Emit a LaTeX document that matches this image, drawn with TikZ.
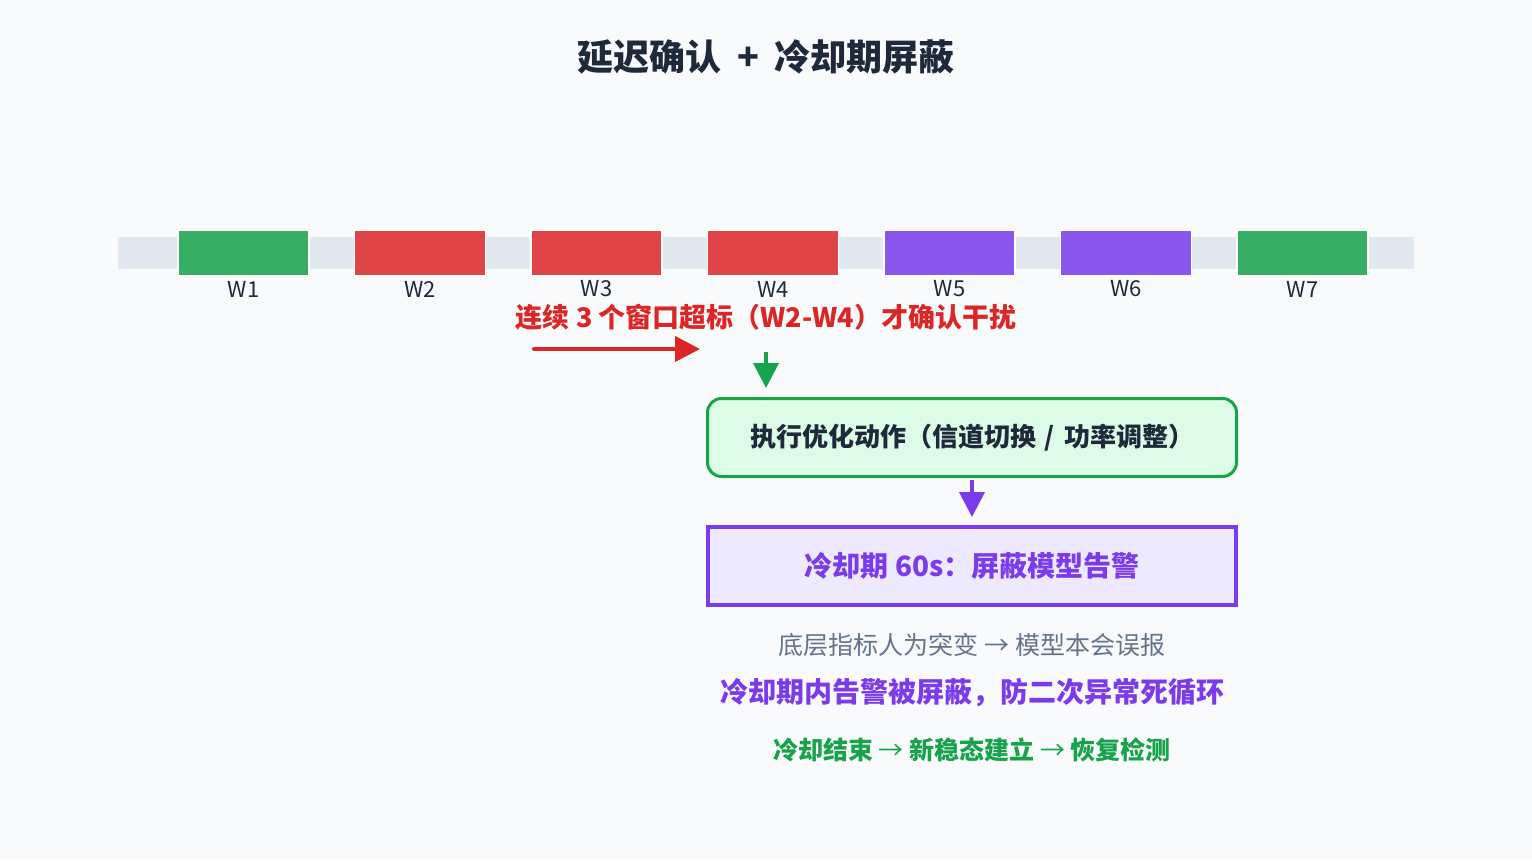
\documentclass[tikz,border=0pt]{standalone}
\usepackage{fontspec}
\setmainfont{Noto Sans CJK SC}
\usepackage{xcolor}
\usetikzlibrary{arrows.meta,positioning}
\definecolor{bg}{HTML}{F8FAFC}
\definecolor{ink}{HTML}{1E293B}
\definecolor{trackc}{HTML}{E2E8F0}
\definecolor{okc}{HTML}{37AE63}
\definecolor{badc}{HTML}{DF4547}
\definecolor{mutec}{HTML}{8B56EE}
\definecolor{alert}{HTML}{DC2626}
\definecolor{grn}{HTML}{16A34A}
\definecolor{grnfill}{HTML}{DCFCE7}
\definecolor{vio}{HTML}{7C3AED}
\definecolor{viofill}{HTML}{EDE9FE}
\definecolor{slate}{HTML}{64748B}
\tikzset{%
	track/.style   = {fill=trackc, minimum width=1296pt, minimum height=32pt, inner sep=0pt, outer sep=0pt}, % timeline
	win/.style     = {draw=white, line width=1.5pt, minimum width=131pt, minimum height=46pt, inner sep=0pt, outer sep=0pt}, % window
	winok/.style   = {win, fill=okc},
	winbad/.style  = {win, fill=badc},
	winmute/.style = {win, fill=mutec},
	wlab/.style    = {text=ink, font=\fontsize{22}{26}\selectfont, inner sep=0pt}, % window label
	ttl/.style     = {text=ink, font=\fontsize{36}{42}\selectfont\bfseries},
	hint/.style    = {font=\fontsize{27}{32}\selectfont\bfseries, inner sep=0pt},
	actbox/.style  = {draw=grn, fill=grnfill, line width=3pt, rounded corners=14pt, minimum width=529pt, minimum height=78pt, text=ink, font=\fontsize{26}{30}\selectfont\bfseries},
	coolbox/.style = {draw=vio, fill=viofill, line width=4pt, minimum width=528pt, minimum height=78pt, text=vio, font=\fontsize{28}{32}\selectfont\bfseries},
	fat/.style     = {line width=4pt, -{Triangle[length=25pt, width=25pt]}},
}

\begin{document}
\begin{tikzpicture}[x=1pt, y=-1pt]
	\useasboundingbox[fill=bg] (0,0) rectangle (1532,860);
	\node[ttl] (title) at (766,57) {延迟确认\hspace{16pt}+\hspace{16pt}冷却期屏蔽};
	% timeline with windows
	\node[track] (trk) at (766,253) {};
	\node[winok] (w1) at (243.5,253) {};
	\node[winbad, right=45.5pt of w1] (w2) {};
	\node[winbad, right=45.5pt of w2] (w3) {};
	\node[winbad, right=45.5pt of w3] (w4) {};
	\node[winmute, right=45.5pt of w4] (w5) {};
	\node[winmute, right=45.5pt of w5] (w6) {};
	\node[winok, right=45.5pt of w6] (w7) {};
	\node[wlab] (l1) at ([yshift=-36pt]w1.center) {W1};
	\node[wlab] (l2) at ([yshift=-36pt]w2.center) {W2};
	\node[wlab] (l3) at ([yshift=-36pt]w3.center) {W3};
	\node[wlab] (l4) at ([yshift=-36pt]w4.center) {W4};
	\node[wlab] (l5) at ([yshift=-36pt]w5.center) {W5};
	\node[wlab] (l6) at ([yshift=-36pt]w6.center) {W6};
	\node[wlab] (l7) at ([yshift=-36pt]w7.center) {W7};
	% confirmation
	\node[hint, text=alert] (conf) at (766,317) {连续 3 个窗口超标（W2-W4）才确认干扰};
	\coordinate (ra) at (534,349);
	\coordinate (rb) at (700,349);
	\draw[fat, alert, line cap=round] (ra) -- (rb);
	\coordinate (ga) at (766,352);
	\node[actbox] (act) at (972,437.5) {执行优化动作（信道切换\hspace{9pt}/\hspace{9pt}功率调整）};
	\draw[fat, grn, shorten >=9pt] (ga) -- (ga |- act.north);
	\node[coolbox] (cool) at (972,566) {冷却期 60s：屏蔽模型告警};
	\draw[fat, vio, shorten <=2pt, shorten >=8pt] (act.south) -- (cool.north);
	% notes
	\node[text=slate, font=\fontsize{25}{30}\selectfont, inner sep=0pt] (n1) at (972,645) {底层指标人为突变 → 模型本会误报};
	\node[hint, text=vio, font=\fontsize{28}{32}\selectfont\bfseries] (n2) at (972,693) {冷却期内告警被屏蔽，防二次异常死循环};
	\node[hint, text=grn, font=\fontsize{25}{30}\selectfont\bfseries] (n3) at (972,750) {冷却结束 {\mdseries →} 新稳态建立 {\mdseries →} 恢复检测};
\end{tikzpicture}
\end{document}
